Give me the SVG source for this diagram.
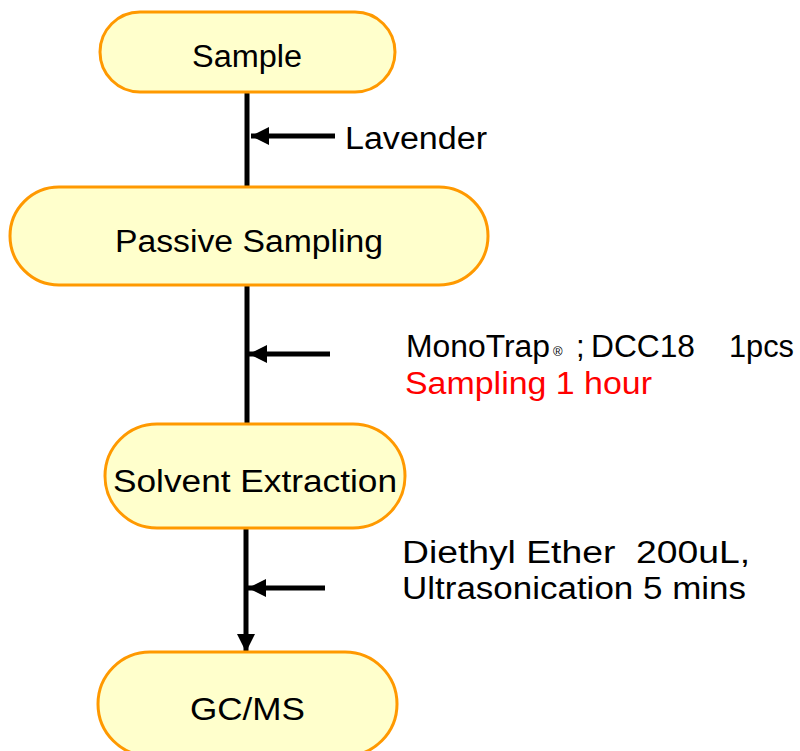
<svg xmlns="http://www.w3.org/2000/svg" width="800" height="751" viewBox="0 0 800 751">
<style>
.node{fill:#FFFFCC;stroke:#FF9900;stroke-width:3}
.t{font-family:"Liberation Sans",Arial,sans-serif;font-size:31px;fill:#000}
.c{text-anchor:middle}
.line{stroke:#000;stroke-width:5;fill:none}
</style>
<defs>
<marker id="ah" viewBox="0 0 10 10" refX="10" refY="5" markerWidth="3.6" markerHeight="3.8" orient="auto" markerUnits="strokeWidth">
<path d="M0,0 L10,5 L0,10 z" fill="#000"/>
</marker>
</defs>
<g id="connectors">
<line class="line" x1="247" y1="92" x2="247" y2="187"/>
<line class="line" x1="247" y1="285" x2="247" y2="425"/>
<line class="line" x1="246" y1="528" x2="246" y2="652" marker-end="url(#ah)"/>
<line class="line" x1="335" y1="136" x2="251" y2="136" marker-end="url(#ah)"/>
<line class="line" x1="330" y1="354" x2="249" y2="354" marker-end="url(#ah)"/>
<line class="line" x1="325" y1="588" x2="248" y2="588" marker-end="url(#ah)"/>
</g>
<g id="sample">
<rect class="node" x="100" y="12" width="295" height="80" rx="40"/>
<text class="t c" x="247" y="67" textLength="110" lengthAdjust="spacingAndGlyphs">Sample</text>
</g>
<g id="passive">
<rect class="node" x="10" y="187" width="478" height="98" rx="49"/>
<text class="t c" x="249" y="252" textLength="268" lengthAdjust="spacingAndGlyphs">Passive Sampling</text>
</g>
<g id="solvent">
<rect class="node" x="105" y="424" width="300" height="104" rx="52"/>
<text class="t c" x="255" y="492" textLength="284" lengthAdjust="spacingAndGlyphs">Solvent Extraction</text>
</g>
<g id="gcms">
<rect class="node" x="98" y="652" width="299" height="104" rx="52"/>
<text class="t c" x="247.5" y="720" textLength="115" lengthAdjust="spacingAndGlyphs">GC/MS</text>
</g>
<g id="labels">
<text class="t" x="345" y="149" textLength="142" lengthAdjust="spacingAndGlyphs">Lavender</text>
<text class="t" y="357"><tspan x="406" textLength="144" lengthAdjust="spacingAndGlyphs">MonoTrap</tspan><tspan x="553" y="356" font-size="13">®</tspan><tspan x="576" y="357">;</tspan><tspan x="591" textLength="104" lengthAdjust="spacingAndGlyphs">DCC18</tspan><tspan x="729" textLength="65" lengthAdjust="spacingAndGlyphs">1pcs</tspan></text>
<text class="t" x="405" y="394" style="fill:#FF0000" textLength="247" lengthAdjust="spacingAndGlyphs">Sampling 1 hour</text>
<text class="t" x="402" y="563" textLength="348" lengthAdjust="spacingAndGlyphs" xml:space="preserve">Diethyl Ether  200uL,</text>
<text class="t" x="402" y="599" textLength="344" lengthAdjust="spacingAndGlyphs">Ultrasonication 5 mins</text>
</g>
</svg>
